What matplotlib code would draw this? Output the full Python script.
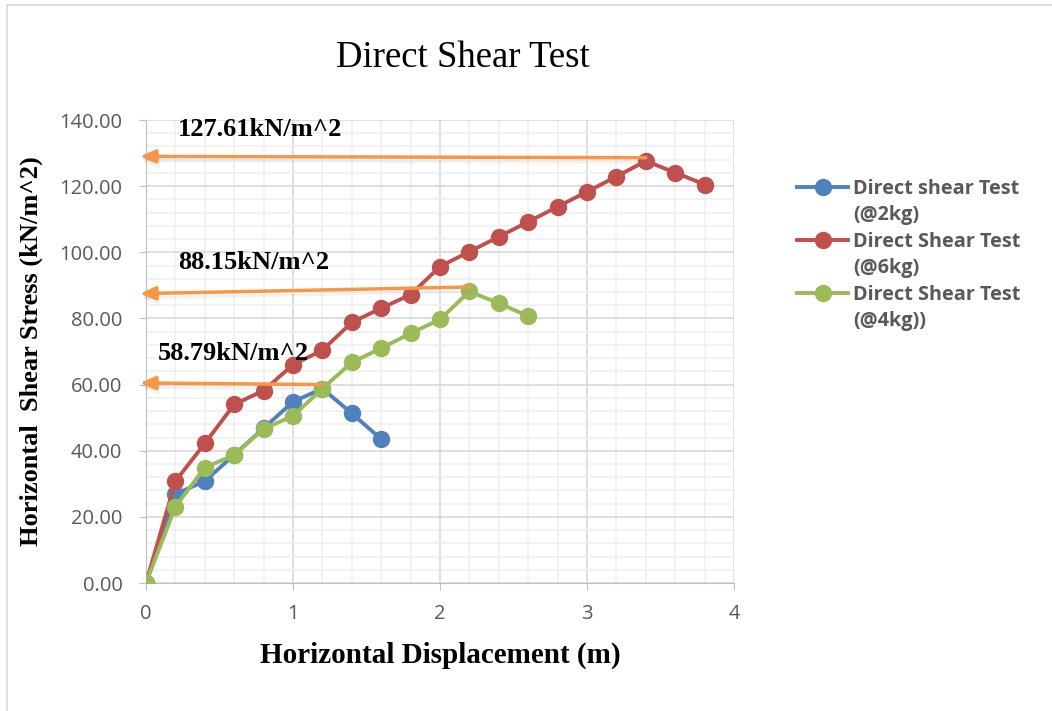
import matplotlib.pyplot as plt
from matplotlib.patches import Rectangle
from matplotlib.lines import Line2D
from matplotlib.ticker import MultipleLocator
import matplotlib.patheffects as pe

# data
x2kg = [0, 0.2, 0.4, 0.6, 0.8, 1.0, 1.2, 1.4, 1.6]
y2kg = [0, 26.9, 30.8, 38.8, 46.8, 54.8, 58.79, 51.3, 43.5]

x6kg = [0, 0.2, 0.4, 0.6, 0.8, 1.0, 1.2, 1.4, 1.6, 1.8, 2.0, 2.2, 2.4,
        2.6, 2.8, 3.0, 3.2, 3.4, 3.6, 3.8]
y6kg = [0, 30.8, 42.2, 54.0, 58.2, 66.0, 70.4, 78.8, 83.1, 87.2, 95.7,
        100.2, 104.7, 109.2, 113.8, 118.3, 122.9, 127.61, 124.1, 120.5]

x4kg = [0, 0.2, 0.4, 0.6, 0.8, 1.0, 1.2, 1.4, 1.6, 1.8, 2.0, 2.2, 2.4, 2.6]
y4kg = [0, 23.1, 34.9, 38.7, 46.6, 50.5, 58.79, 66.7, 71.0, 75.5, 79.7,
        88.15, 84.6, 80.7]

names = ["Direct shear Test", "Direct Shear Test", "Direct Shear Test"]
loads = ["(@2kg)", "(@6kg)", "(@4kg))"]
colors = ["#4F81BD", "#C0504D", "#9BBB59"]

# peak arrows: (start x, start y, end y, text, text x, text y)
peaks = [(3.4, 128.6, 129.0, "127.61kN/m^2", 0.22, 137.0),
         (2.2, 89.5, 87.5, "88.15kN/m^2", 0.22, 97.0),
         (1.2, 60.0, 60.5, "58.79kN/m^2", 0.08, 69.5)]

fig = plt.figure(figsize=(10.52, 7.11), dpi=100)
ax = fig.add_axes([0.1388, 0.180, 0.5589, 0.6512])

series = [(x2kg, y2kg), (x6kg, y6kg), (x4kg, y4kg)]
handles = []
for (xs, ys), c in zip(series, colors):
    h, = ax.plot(xs, ys, color=c, lw=2.8, marker="o", ms=11.5, zorder=3)
    handles.append(h)

orange = "#F79646"
for sx, sy, ey, txt, tx, ty in peaks:
    ax.annotate("", xy=(-0.04, ey), xytext=(sx, sy),
                arrowprops=dict(arrowstyle="-|>,head_length=0.9,head_width=0.4",
                                color=orange, lw=2.5, shrinkA=0, shrinkB=0,
                                path_effects=[pe.SimpleLineShadow(offset=(1, -3), alpha=0.1,
                                                                  shadow_color="#808080"),
                                              pe.Normal()]),
                annotation_clip=False, zorder=4)
    ax.text(tx, ty, txt, fontsize=19, fontweight="bold",
            family="Liberation Serif", va="center", ha="left", zorder=5)

ax.set_xlim(0, 4)
ax.set_ylim(0, 140)
ax.xaxis.set_major_locator(MultipleLocator(1))
ax.xaxis.set_minor_locator(MultipleLocator(0.2))
ax.yaxis.set_major_locator(MultipleLocator(20))
ax.yaxis.set_minor_locator(MultipleLocator(4))
ax.grid(which="major", color="#D9D9D9", lw=1.2)
ax.grid(which="minor", color="#F0F0F0", lw=1.2)
ax.set_axisbelow(True)
ax.yaxis.set_major_formatter(plt.FuncFormatter(lambda v, p: "%.2f" % v))

for s in ["top", "right"]:
    ax.spines[s].set_visible(False)
for s in ["left", "bottom"]:
    ax.spines[s].set_color("#BFBFBF")
ax.tick_params(which="both", length=0, labelsize=14.5, labelcolor="#595959")
ax.tick_params(axis="x", which="major", length=5, color="#BFBFBF", pad=10)
ax.tick_params(axis="y", which="major", length=5, color="#BFBFBF", pad=12)
for t in ax.get_xticklabels() + ax.get_yticklabels():
    t.set_family("Open Sans")

ax.set_xlabel("Horizontal Displacement (m)", fontsize=21, fontweight="bold",
              family="Liberation Serif", labelpad=13)
ax.set_ylabel("Horizontal  Shear Stress (kN/m^2)", fontsize=19,
              fontweight="bold", family="Liberation Serif", labelpad=12)

fig.text(0.44, 0.919, "Direct Shear Test", fontsize=26.5,
         family="Liberation Serif", ha="center", va="center")

# legend: marker sits on the first line of each two-line label
blank = Line2D([], [], lw=0, marker=None)
leg_handles, leg_labels = [], []
for h, n, l in zip(handles, names, loads):
    leg_handles += [h, blank]
    leg_labels += [n, l]
leg = ax.legend(leg_handles, leg_labels, loc="upper left",
                bbox_to_anchor=(1.09, 0.895), frameon=False,
                prop={"family": "Open Sans", "weight": "bold", "size": 14.3},
                labelcolor="#595959", handlelength=2.6, labelspacing=0.33,
                handletextpad=0.25, borderpad=0)

fig.patches.append(Rectangle((0.007, -0.01), 1.2, 1.003, transform=fig.transFigure,
                             fill=False, edgecolor="#D9D9D9", lw=1.2))

fig.savefig("out.png", dpi=100)
